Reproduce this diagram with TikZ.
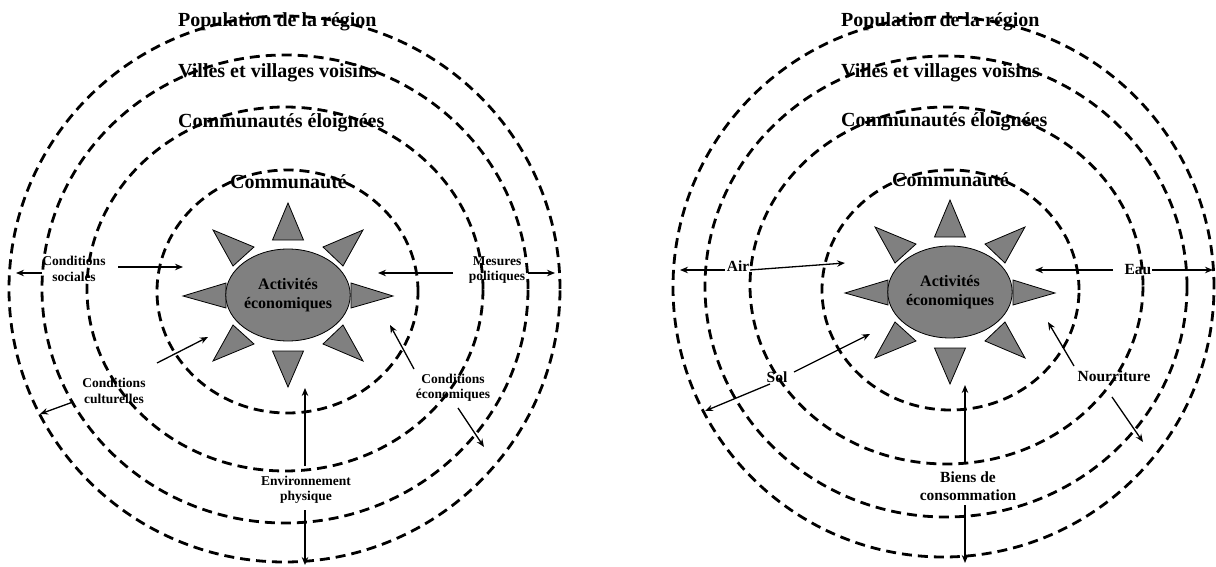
\documentclass[tikz,border=0pt]{standalone}
\usepackage{fontspec}
\setmainfont{Liberation Serif}
\usetikzlibrary{arrows.meta,shapes.geometric}
\definecolor{sungray}{RGB}{128,128,128}
\tikzset{
  ring/.style={line width=2.8pt, dash pattern=on 10pt off 6pt, black},
  conn/.style={line width=1.3pt, -{Stealth[length=8pt,width=6.5pt]}},
  lbl/.style={font=\bfseries\fontsize{13.5}{15.5}\selectfont, align=center, inner sep=0pt},
  rlbl/.style={font=\bfseries\fontsize{15.5}{18.5}\selectfont, align=center, inner sep=0pt},
  ringlbl/.style={font=\bfseries\fontsize{20}{24}\selectfont, anchor=west, inner sep=0pt},
  tri/.style={fill=sungray, draw=black, line width=0.8pt},
  sunbody/.style={ellipse, fill=sungray, draw=black, line width=0.8pt, minimum width=106pt, minimum height=92pt, inner sep=0pt, align=center, font=\bfseries\fontsize{16}{19}\selectfont},
  rays/.pic={
    \draw[tri] (0,-92) -- (-15.5,-55) -- (15.5,-55) -- cycle;
    \draw[tri] (0,92) -- (-15.5,56) -- (15.5,56) -- cycle;
    \draw[tri] (-105,1) -- (-62,-12) -- (-62,13) -- cycle;
    \draw[tri] (105,1) -- (63,-12) -- (63,13) -- cycle;
    \draw[tri] (-75,-65) -- (-34,-48) -- (-55,-29) -- cycle;
    \draw[tri] (75,-65) -- (35,-48) -- (55,-29) -- cycle;
    \draw[tri] (-75,66) -- (-55,30) -- (-34,49) -- cycle;
    \draw[tri] (75,66) -- (55,30) -- (35,49) -- cycle;
  }
}
\begin{document}
\begin{tikzpicture}[x=1pt,y=-1pt]
\useasboundingbox (0,0) rectangle (1216,567);

% ---------------- left diagram ----------------
\draw[ring] (284.5,289) ellipse [x radius=275.5pt, y radius=273pt];
\draw[ring] (285,289) ellipse [x radius=243pt, y radius=234pt];
\draw[ring] (285,289) ellipse [x radius=198pt, y radius=182pt];
\draw[ring] (287.5,291.5) ellipse [x radius=130.5pt, y radius=121.5pt];

\node[ringlbl] (lpop) at (178,22) {Population de la région};
\node[ringlbl] (lvil) at (178,73) {Villes et villages voisins};
\node[ringlbl] (lcel) at (178,123) {Communautés éloignées};
\node[ringlbl] (lcom) at (230,182) {Communauté};

\pic at (288,295) {rays};
\node[sunbody] (lsun) at (288,295) {Activités\\économiques};

\node[lbl] (lcs) at (74,269) {Conditions\\sociales};
\node[lbl] (lcc) at (114,391) {Conditions\\culturelles};
\node[lbl] (lmp) at (497,270) {Mesures\\politiques};
\node[lbl] (lce) at (453,388) {Conditions\\économiques};
\node[lbl] (lep) at (306,490) {Environnement\\physique};

\coordinate (cs1a) at (42,273);  \coordinate (cs1b) at (16,273);
\coordinate (cs2a) at (118,267); \coordinate (cs2b) at (183,267);
\coordinate (cc1a) at (73,402);  \coordinate (cc1b) at (40,414);
\coordinate (cc2a) at (157,363); \coordinate (cc2b) at (208,337);
\coordinate (mp1a) at (453,273); \coordinate (mp1b) at (378,273);
\coordinate (mp2a) at (528,273); \coordinate (mp2b) at (555,273);
\coordinate (ce1a) at (414,369); \coordinate (ce1b) at (390,325);
\coordinate (ce2a) at (458,408); \coordinate (ce2b) at (484,447);
\coordinate (ep1a) at (305,466); \coordinate (ep1b) at (305,388);
\coordinate (ep2a) at (305,510); \coordinate (ep2b) at (305,565);

\draw[conn] (cs1a) -- (cs1b);
\draw[conn] (cs2a) -- (cs2b);
\draw[conn] (cc1a) -- (cc1b);
\draw[conn] (cc2a) -- (cc2b);
\draw[conn] (mp1a) -- (mp1b);
\draw[conn] (mp2a) -- (mp2b);
\draw[conn] (ce1a) -- (ce1b);
\draw[conn] (ce2a) -- (ce2b);
\draw[conn] (ep1a) -- (ep1b);
\draw[conn] (ep2a) -- (ep2b);

% ---------------- right diagram ----------------
\draw[ring] (943.5,287) ellipse [x radius=270.5pt, y radius=270pt];
\draw[ring] (946,286.5) ellipse [x radius=241pt, y radius=230.5pt];
\draw[ring] (946.5,285.5) ellipse [x radius=196.5pt, y radius=178.5pt];
\draw[ring] (950.5,290) ellipse [x radius=128.5pt, y radius=120pt];

\node[ringlbl] (rpop) at (841,22) {Population de la région};
\node[ringlbl] (rvil) at (841,73) {Villes et villages voisins};
\node[ringlbl] (rcel) at (841,122) {Communautés éloignées};
\node[ringlbl] (rcom) at (892,180) {Communauté};

\pic at (950,292) {rays};
\node[sunbody] (rsun) at (950,292) {Activités\\économiques};

\node[rlbl] (rair) at (738,266) {Air};
\node[rlbl] (reau) at (1138,270) {Eau};
\node[rlbl] (rsol) at (777,377) {Sol};
\node[rlbl] (rnou) at (1114,376) {Nourriture};
\node[rlbl] (rbc) at (968,486) {Biens de\\consommation};

\coordinate (air1a) at (725,270);  \coordinate (air1b) at (680,270);
\coordinate (air2a) at (750,270);  \coordinate (air2b) at (845,263);
\coordinate (eau1a) at (1113,270); \coordinate (eau1b) at (1035,270);
\coordinate (eau2a) at (1152,270); \coordinate (eau2b) at (1213,270);
\coordinate (sol1a) at (794,372);  \coordinate (sol1b) at (870,334);
\coordinate (sol2a) at (770,384);  \coordinate (sol2b) at (705,411);
\coordinate (nou1a) at (1074,366); \coordinate (nou1b) at (1048,322);
\coordinate (nou2a) at (1112,397); \coordinate (nou2b) at (1143,442);
\coordinate (bc1a) at (965,463);   \coordinate (bc1b) at (965,385);
\coordinate (bc2a) at (965,505);   \coordinate (bc2b) at (965,563);

\draw[conn] (air1a) -- (air1b);
\draw[conn] (air2a) -- (air2b);
\draw[conn] (eau1a) -- (eau1b);
\draw[conn] (eau2a) -- (eau2b);
\draw[conn] (sol1a) -- (sol1b);
\draw[conn] (sol2a) -- (sol2b);
\draw[conn] (nou1a) -- (nou1b);
\draw[conn] (nou2a) -- (nou2b);
\draw[conn] (bc1a) -- (bc1b);
\draw[conn] (bc2a) -- (bc2b);
\end{tikzpicture}
\end{document}
